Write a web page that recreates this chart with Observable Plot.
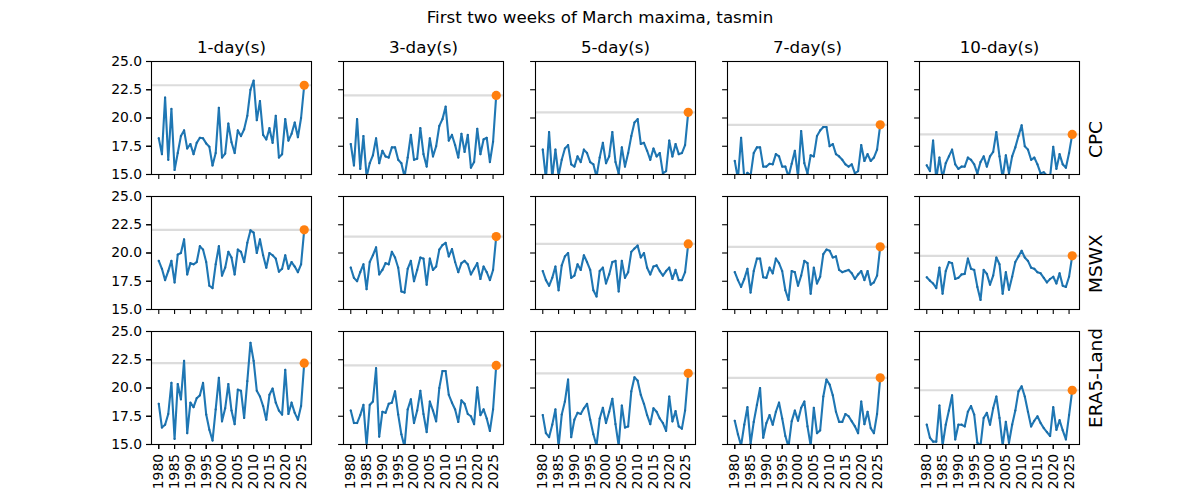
<!DOCTYPE html>
<html>
<head>
<meta charset="utf-8">
<script src="https://cdn.jsdelivr.net/npm/d3@7"></script>
<script src="https://cdn.jsdelivr.net/npm/@observablehq/plot@0.6"></script>
<style>
  body { margin: 0; background: #fff; font-family: "DejaVu Sans", sans-serif; }
  #wrap { position: relative; width: 1200px; height: 500px; overflow: hidden; }
  #chart { position: absolute; left: 0; top: 0; }
  #title { position: absolute; left: 0; top: 0; width: 1200px; text-align: center;
           font-size: 16.7px; line-height: 20px; padding-top: 7px; color: #000; }
</style>
</head>
<body>
<div id="wrap"><div id="chart"></div><div id="title">First two weeks of March maxima, tasmin</div></div>
<script>
const years = [1980,1981,1982,1983,1984,1985,1986,1987,1988,1989,1990,1991,1992,1993,1994,1995,1996,1997,1998,1999,
  2000,2001,2002,2003,2004,2005,2006,2007,2008,2009,2010,2011,2012,2013,2014,2015,2016,2017,2018,2019,
  2020,2021,2022,2023,2024,2025,2026];
const datasets = ["CPC", "MSWX", "ERA5-Land"];
const windows = ["1-day(s)", "3-day(s)", "5-day(s)", "7-day(s)", "10-day(s)"];
const yTicks = [15, 17.5, 20, 22.5, 25];
const xTicks = [1980, 1985, 1990, 1995, 2000, 2005, 2010, 2015, 2020, 2025];

const cpc_1 = [18.2,16.8,21.8,16.3,20.8,15.4,16.9,18.4,18.9,17.3,17.7,16.8,17.8,18.25,18.2,17.75,17.45,15.8,16.9,20.9,16.5,16.85,19.5,17.85,16.9,18.9,18.4,19.0,20.2,22.5,23.3,19.8,21.5,18.5,18.1,19.1,17.8,20.2,16.5,16.8,19.9,18.0,18.6,19.6,18.3,20.0,22.9];
const cpc_3 = [17.7,15.8,19.9,15.5,18.4,14.8,16.0,16.7,18.2,16.0,17.1,16.6,16.5,17.4,17.4,16.3,16.0,14.8,16.5,18.5,16.3,16.4,19.1,16.8,15.7,18.2,16.6,17.5,19.3,19.9,21.0,18.0,18.5,17.6,16.5,18.6,17.0,18.5,15.6,16.1,19.05,16.8,18.1,18.25,16.1,17.9,22.0];
const cpc_5 = [17.2,14.6,18.75,14.7,17.2,14.9,16.3,17.3,17.6,15.9,15.7,16.6,16.1,17.2,16.9,16.1,15.9,14.8,16.5,17.8,16.0,16.6,18.75,16.1,15.1,17.4,15.7,16.9,18.4,19.6,19.9,17.7,17.8,17.1,16.3,17.3,16.6,16.9,15.1,15.3,18.0,16.6,17.7,16.8,16.9,17.6,20.5];
const cpc_7 = [16.2,14.6,18.25,14.7,15.15,14.9,16.9,17.4,17.4,15.7,15.7,15.95,15.9,16.8,16.6,15.7,15.7,14.8,15.95,17.1,14.8,18.85,16.0,15.1,16.7,16.6,18.4,18.9,19.2,19.2,17.5,17.7,16.8,16.6,16.3,15.9,15.7,15.9,15.1,15.3,17.6,16.2,16.8,16.2,16.5,17.2,19.4];
const cpc_10 = [15.8,15.3,18.0,14.6,16.5,14.7,16.0,16.6,17.2,15.9,15.5,15.7,15.7,16.5,16.3,15.9,15.1,16.1,16.6,15.7,16.6,17.0,18.75,16.6,14.7,16.7,15.1,16.6,17.4,18.4,19.35,17.5,17.2,16.3,16.5,15.9,15.1,15.2,14.9,14.8,17.45,15.5,16.8,15.9,15.6,16.9,18.55];

const mswx_1 = [19.3,18.6,17.6,18.4,19.3,17.4,19.85,20.0,21.2,18.1,19.1,19.0,19.2,20.6,20.3,19.2,17.1,16.9,19.0,20.6,18.0,18.7,20.1,19.6,18.1,20.3,20.1,19.2,20.9,22.0,21.8,20.0,21.2,19.8,18.7,20.0,19.8,19.5,18.35,18.6,19.8,18.6,19.2,18.8,18.3,19.0,22.05];
const mswx_3 = [18.7,17.8,17.5,18.3,19.0,16.8,19.2,19.8,20.5,18.1,18.5,19.1,19.0,20.1,19.6,18.7,16.6,16.5,18.6,19.3,17.5,18.5,19.6,19.5,17.2,19.5,18.5,18.8,20.3,20.7,20.9,19.7,20.35,19.2,18.3,19.1,19.3,19.0,18.1,18.6,19.1,17.7,18.8,18.3,17.6,18.5,21.45];
const mswx_5 = [18.4,17.6,17.1,17.8,18.8,16.7,18.9,19.7,20.0,17.8,18.0,19.0,18.5,19.8,19.2,18.5,16.7,16.15,18.4,18.7,17.3,18.1,19.2,19.3,16.6,19.3,17.8,18.3,20.1,20.4,20.65,19.6,20.0,18.7,18.1,18.8,18.9,18.4,18.0,18.4,18.7,17.7,18.5,17.6,17.6,18.3,20.8];
const mswx_7 = [18.3,17.6,17.0,17.7,18.6,16.5,18.4,19.5,19.5,17.85,17.8,18.7,18.2,19.5,19.1,18.4,16.7,15.85,18.4,18.3,17.1,18.0,19.3,19.1,16.4,18.7,17.3,17.9,19.9,20.3,20.2,19.6,19.7,18.5,18.3,18.4,18.5,18.2,17.7,18.1,18.4,17.6,18.4,17.2,17.4,18.0,20.55];
const mswx_10 = [17.85,17.55,17.3,16.9,18.7,16.4,18.4,19.2,19.1,17.7,17.8,18.1,18.15,19.5,18.6,18.5,17.0,15.85,18.5,18.15,17.2,18.0,19.6,19.0,16.4,18.3,16.75,17.9,19.2,19.7,20.2,19.6,19.3,18.7,18.6,18.3,18.2,17.8,17.4,17.7,17.9,17.3,18.2,17.1,17.0,17.9,19.75];

const era_1 = [18.6,16.5,16.75,17.7,20.45,15.5,20.35,19.0,22.4,16.0,18.7,18.3,19.1,19.35,20.45,17.65,16.3,15.35,18.1,20.9,17.05,18.2,20.35,18.0,16.8,19.85,19.75,17.35,20.6,24.0,22.4,19.75,19.25,18.4,17.2,19.4,19.95,18.7,18.0,17.65,21.6,17.7,18.7,17.8,17.2,18.4,22.2];
const era_3 = [18.0,16.9,16.9,17.6,18.5,14.9,18.5,18.8,21.75,15.7,17.9,17.8,18.6,18.7,19.7,17.65,15.9,14.8,18.1,19.0,16.9,18.0,19.75,17.7,16.1,18.8,18.0,17.05,20.0,21.5,21.5,19.4,18.7,18.1,17.0,18.9,18.6,17.7,17.5,16.8,20.05,17.6,18.1,17.3,16.2,18.1,22.0];
const era_5 = [17.6,16.0,15.65,16.75,18.1,14.8,17.65,18.8,20.75,15.65,17.2,17.8,17.7,18.2,18.6,17.2,15.9,14.9,17.3,18.25,16.9,17.9,19.05,16.8,14.9,18.45,16.5,16.6,19.7,20.95,20.65,19.4,18.6,17.6,16.8,18.2,17.9,17.3,16.9,16.2,19.25,17.05,17.95,16.6,16.4,18.0,21.3];
const era_7 = [17.1,15.9,14.9,16.75,18.3,15.05,17.0,18.5,20.0,15.6,16.9,17.6,16.75,17.9,18.7,17.3,15.75,14.8,17.05,18.0,17.1,18.25,18.8,16.6,14.9,18.25,16.0,16.25,19.25,20.75,20.3,19.35,17.9,17.0,17.0,17.7,17.5,17.05,16.6,16.0,18.8,16.8,17.9,16.45,16.0,17.7,20.9];
const era_10 = [16.75,15.6,15.25,15.25,18.45,14.9,16.75,18.0,19.35,15.45,16.75,16.75,16.6,17.9,18.4,17.65,15.15,14.9,17.35,17.8,16.75,18.2,19.25,17.35,14.9,17.0,15.15,16.75,18.0,19.7,20.15,19.25,17.9,16.6,17.1,17.5,16.9,16.45,16.1,15.75,18.3,16.3,17.15,16.25,15.45,17.6,19.8];

const series = {
  "CPC": [cpc_1, cpc_3, cpc_5, cpc_7, cpc_10],
  "MSWX": [mswx_1, mswx_3, mswx_5, mswx_7, mswx_10],
  "ERA5-Land": [era_1, era_3, era_5, era_7, era_10]
};

const rows = [];
const latest = [];
datasets.forEach(ds => {
  windows.forEach((w, wi) => {
    const vals = series[ds][wi];
    vals.forEach((v, i) => rows.push({dataset: ds, window: w, year: years[i], value: v}));
    latest.push({dataset: ds, window: w, year: years[years.length - 1], value: vals[vals.length - 1]});
  });
});

const chart = Plot.plot({
  width: 1200,
  height: 500,
  marginLeft: 150,
  marginRight: 120,
  marginTop: 60.7,
  marginBottom: 55.3,
  style: {fontFamily: "DejaVu Sans", fontSize: "13.9px", background: "white", color: "black", overflow: "visible"},
  x: {domain: [1977.7, 2028.3]},
  y: {domain: [15, 25]},
  fx: {domain: windows, paddingInner: 0.169, paddingOuter: 0, axis: null},
  fy: {domain: datasets, paddingInner: 0.166, paddingOuter: 0, axis: null},
  marks: [
    Plot.ruleY(latest, {y: "value", fx: "window", fy: "dataset", stroke: "#dcdcdc", strokeWidth: 2.2}),
    Plot.line(rows, {x: "year", y: "value", fx: "window", fy: "dataset", stroke: "#1f77b4", strokeWidth: 2.1, clip: true}),
    Plot.dot(rows, {x: "year", y: "value", fx: "window", fy: "dataset", r: 1.1, fill: "#1a6aa3", clip: true}),
    Plot.dot(latest, {x: "year", y: "value", fx: "window", fy: "dataset", r: 4.6, fill: "#ff7f0e"}),
    Plot.frame({stroke: "black", strokeWidth: 1.1}),
    Plot.axisY({ticks: yTicks, tickFormat: () => "", facetAnchor: null, tickSize: 4.9, strokeWidth: 1.1, label: null}),
    Plot.axisY({ticks: yTicks, tickFormat: ".1f", facetAnchor: "left", tickSize: 4.9, tickPadding: 4.5, strokeWidth: 1.1, fontSize: 13.9, label: null}),
    Plot.axisX({ticks: xTicks, tickFormat: () => "", facetAnchor: null, tickSize: 4.9, strokeWidth: 1.1, label: null}),
    Plot.axisX({ticks: xTicks, tickFormat: "d", tickRotate: -90, facetAnchor: "bottom", tickSize: 4.9, tickPadding: 4.5, strokeWidth: 1.1, fontSize: 13.9, label: null}),
    Plot.text(windows, {fx: d => d, fy: () => "CPC", text: d => d, frameAnchor: "top", dy: -8.3, lineAnchor: "bottom", fontSize: 16.7}),
    Plot.text(datasets, {fx: () => "10-day(s)", fy: d => d, text: d => d, frameAnchor: "right", textAnchor: "start", dx: 17, dy: 40, rotate: -90, fontSize: 18.5})
  ]
});
document.getElementById("chart").appendChild(chart);
</script>
</body>
</html>
